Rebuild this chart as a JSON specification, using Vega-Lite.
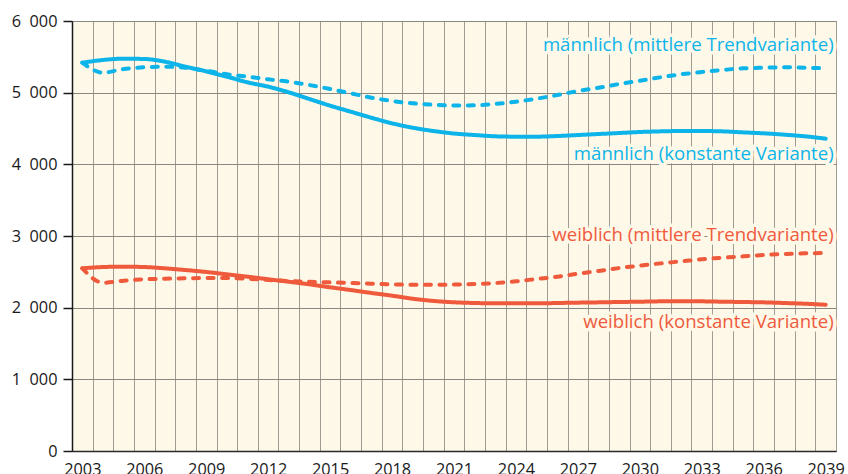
{
  "$schema": "https://vega.github.io/schema/vega-lite/v6.json",
  "width": 764,
  "height": 430,
  "autosize": {"type": "none"},
  "padding": {"left": 72, "top": 21, "right": 12, "bottom": 23},
  "background": "#ffffff",
  "config": {
    "font": "Open Sans",
    "view": {"fill": "#fdf8e7", "stroke": "#8e8a84", "strokeWidth": 1}
  },
  "datasets": {
    "series": [
      {"year":2003,"sex":"m","variant":"konstant","value":5418},{"year":2004,"sex":"m","variant":"konstant","value":5456},{"year":2005,"sex":"m","variant":"konstant","value":5474},{"year":2006,"sex":"m","variant":"konstant","value":5470},{"year":2007,"sex":"m","variant":"konstant","value":5432},{"year":2008,"sex":"m","variant":"konstant","value":5362},{"year":2009,"sex":"m","variant":"konstant","value":5297},{"year":2010,"sex":"m","variant":"konstant","value":5223},{"year":2011,"sex":"m","variant":"konstant","value":5144},{"year":2012,"sex":"m","variant":"konstant","value":5083},{"year":2013,"sex":"m","variant":"konstant","value":5004},{"year":2014,"sex":"m","variant":"konstant","value":4911},{"year":2015,"sex":"m","variant":"konstant","value":4818},{"year":2016,"sex":"m","variant":"konstant","value":4734},{"year":2017,"sex":"m","variant":"konstant","value":4650},{"year":2018,"sex":"m","variant":"konstant","value":4572},{"year":2019,"sex":"m","variant":"konstant","value":4511},{"year":2020,"sex":"m","variant":"konstant","value":4465},{"year":2021,"sex":"m","variant":"konstant","value":4430},{"year":2022,"sex":"m","variant":"konstant","value":4409},{"year":2023,"sex":"m","variant":"konstant","value":4391},{"year":2024,"sex":"m","variant":"konstant","value":4386},{"year":2025,"sex":"m","variant":"konstant","value":4386},{"year":2026,"sex":"m","variant":"konstant","value":4395},{"year":2027,"sex":"m","variant":"konstant","value":4409},{"year":2028,"sex":"m","variant":"konstant","value":4423},{"year":2029,"sex":"m","variant":"konstant","value":4437},{"year":2030,"sex":"m","variant":"konstant","value":4451},{"year":2031,"sex":"m","variant":"konstant","value":4460},{"year":2032,"sex":"m","variant":"konstant","value":4465},{"year":2033,"sex":"m","variant":"konstant","value":4465},{"year":2034,"sex":"m","variant":"konstant","value":4460},{"year":2035,"sex":"m","variant":"konstant","value":4446},{"year":2036,"sex":"m","variant":"konstant","value":4433},{"year":2037,"sex":"m","variant":"konstant","value":4414},{"year":2038,"sex":"m","variant":"konstant","value":4391},{"year":2039,"sex":"m","variant":"konstant","value":4358},
      {"year":2003,"sex":"m","variant":"trend","value":5418},{"year":2004,"sex":"m","variant":"trend","value":5279},{"year":2005,"sex":"m","variant":"trend","value":5330},{"year":2006,"sex":"m","variant":"trend","value":5354},{"year":2007,"sex":"m","variant":"trend","value":5362},{"year":2008,"sex":"m","variant":"trend","value":5348},{"year":2009,"sex":"m","variant":"trend","value":5306},{"year":2010,"sex":"m","variant":"trend","value":5256},{"year":2011,"sex":"m","variant":"trend","value":5223},{"year":2012,"sex":"m","variant":"trend","value":5186},{"year":2013,"sex":"m","variant":"trend","value":5153},{"year":2014,"sex":"m","variant":"trend","value":5107},{"year":2015,"sex":"m","variant":"trend","value":5051},{"year":2016,"sex":"m","variant":"trend","value":4991},{"year":2017,"sex":"m","variant":"trend","value":4930},{"year":2018,"sex":"m","variant":"trend","value":4884},{"year":2019,"sex":"m","variant":"trend","value":4851},{"year":2020,"sex":"m","variant":"trend","value":4832},{"year":2021,"sex":"m","variant":"trend","value":4820},{"year":2022,"sex":"m","variant":"trend","value":4823},{"year":2023,"sex":"m","variant":"trend","value":4842},{"year":2024,"sex":"m","variant":"trend","value":4874},{"year":2025,"sex":"m","variant":"trend","value":4916},{"year":2026,"sex":"m","variant":"trend","value":4967},{"year":2027,"sex":"m","variant":"trend","value":5023},{"year":2028,"sex":"m","variant":"trend","value":5069},{"year":2029,"sex":"m","variant":"trend","value":5121},{"year":2030,"sex":"m","variant":"trend","value":5167},{"year":2031,"sex":"m","variant":"trend","value":5214},{"year":2032,"sex":"m","variant":"trend","value":5256},{"year":2033,"sex":"m","variant":"trend","value":5288},{"year":2034,"sex":"m","variant":"trend","value":5316},{"year":2035,"sex":"m","variant":"trend","value":5340},{"year":2036,"sex":"m","variant":"trend","value":5348},{"year":2037,"sex":"m","variant":"trend","value":5354},{"year":2038,"sex":"m","variant":"trend","value":5348},{"year":2039,"sex":"m","variant":"trend","value":5340},
      {"year":2003,"sex":"w","variant":"konstant","value":2549},{"year":2004,"sex":"w","variant":"konstant","value":2567},{"year":2005,"sex":"w","variant":"konstant","value":2572},{"year":2006,"sex":"w","variant":"konstant","value":2567},{"year":2007,"sex":"w","variant":"konstant","value":2549},{"year":2008,"sex":"w","variant":"konstant","value":2525},{"year":2009,"sex":"w","variant":"konstant","value":2498},{"year":2010,"sex":"w","variant":"konstant","value":2465},{"year":2011,"sex":"w","variant":"konstant","value":2432},{"year":2012,"sex":"w","variant":"konstant","value":2396},{"year":2013,"sex":"w","variant":"konstant","value":2362},{"year":2014,"sex":"w","variant":"konstant","value":2325},{"year":2015,"sex":"w","variant":"konstant","value":2284},{"year":2016,"sex":"w","variant":"konstant","value":2246},{"year":2017,"sex":"w","variant":"konstant","value":2205},{"year":2018,"sex":"w","variant":"konstant","value":2167},{"year":2019,"sex":"w","variant":"konstant","value":2125},{"year":2020,"sex":"w","variant":"konstant","value":2094},{"year":2021,"sex":"w","variant":"konstant","value":2075},{"year":2022,"sex":"w","variant":"konstant","value":2065},{"year":2023,"sex":"w","variant":"konstant","value":2060},{"year":2024,"sex":"w","variant":"konstant","value":2060},{"year":2025,"sex":"w","variant":"konstant","value":2060},{"year":2026,"sex":"w","variant":"konstant","value":2065},{"year":2027,"sex":"w","variant":"konstant","value":2070},{"year":2028,"sex":"w","variant":"konstant","value":2074},{"year":2029,"sex":"w","variant":"konstant","value":2079},{"year":2030,"sex":"w","variant":"konstant","value":2083},{"year":2031,"sex":"w","variant":"konstant","value":2088},{"year":2032,"sex":"w","variant":"konstant","value":2088},{"year":2033,"sex":"w","variant":"konstant","value":2088},{"year":2034,"sex":"w","variant":"konstant","value":2083},{"year":2035,"sex":"w","variant":"konstant","value":2079},{"year":2036,"sex":"w","variant":"konstant","value":2074},{"year":2037,"sex":"w","variant":"konstant","value":2065},{"year":2038,"sex":"w","variant":"konstant","value":2055},{"year":2039,"sex":"w","variant":"konstant","value":2041},
      {"year":2003,"sex":"w","variant":"trend","value":2549},{"year":2004,"sex":"w","variant":"trend","value":2348},{"year":2005,"sex":"w","variant":"trend","value":2376},{"year":2006,"sex":"w","variant":"trend","value":2396},{"year":2007,"sex":"w","variant":"trend","value":2404},{"year":2008,"sex":"w","variant":"trend","value":2410},{"year":2009,"sex":"w","variant":"trend","value":2414},{"year":2010,"sex":"w","variant":"trend","value":2414},{"year":2011,"sex":"w","variant":"trend","value":2404},{"year":2012,"sex":"w","variant":"trend","value":2386},{"year":2013,"sex":"w","variant":"trend","value":2372},{"year":2014,"sex":"w","variant":"trend","value":2362},{"year":2015,"sex":"w","variant":"trend","value":2353},{"year":2016,"sex":"w","variant":"trend","value":2344},{"year":2017,"sex":"w","variant":"trend","value":2335},{"year":2018,"sex":"w","variant":"trend","value":2325},{"year":2019,"sex":"w","variant":"trend","value":2320},{"year":2020,"sex":"w","variant":"trend","value":2320},{"year":2021,"sex":"w","variant":"trend","value":2322},{"year":2022,"sex":"w","variant":"trend","value":2330},{"year":2023,"sex":"w","variant":"trend","value":2344},{"year":2024,"sex":"w","variant":"trend","value":2367},{"year":2025,"sex":"w","variant":"trend","value":2400},{"year":2026,"sex":"w","variant":"trend","value":2432},{"year":2027,"sex":"w","variant":"trend","value":2474},{"year":2028,"sex":"w","variant":"trend","value":2512},{"year":2029,"sex":"w","variant":"trend","value":2553},{"year":2030,"sex":"w","variant":"trend","value":2586},{"year":2031,"sex":"w","variant":"trend","value":2618},{"year":2032,"sex":"w","variant":"trend","value":2646},{"year":2033,"sex":"w","variant":"trend","value":2675},{"year":2034,"sex":"w","variant":"trend","value":2697},{"year":2035,"sex":"w","variant":"trend","value":2716},{"year":2036,"sex":"w","variant":"trend","value":2735},{"year":2037,"sex":"w","variant":"trend","value":2749},{"year":2038,"sex":"w","variant":"trend","value":2758},{"year":2039,"sex":"w","variant":"trend","value":2763}
    ],
    "labels": [
      {"label":"männlich (mittlere Trendvariante)","sex":"m","year":2039,"value":5588},
      {"label":"männlich (konstante Variante)","sex":"m","year":2039,"value":4060},
      {"label":"weiblich (mittlere Trendvariante)","sex":"w","year":2039,"value":2935},
      {"label":"weiblich (konstante Variante)","sex":"w","year":2039,"value":1712}
    ]
  },
  "encoding": {
    "x": {
      "field": "year",
      "type": "ordinal",
      "scale": {"type": "band", "paddingInner": 0, "paddingOuter": 0},
      "axis": {
        "title": null,
        "labelAngle": 0,
        "labelOverlap": false,
        "labelExpr": "(datum.value - 2003) % 3 == 0 ? datum.label : ''",
        "labelFontSize": 16.3,
        "labelColor": "#1a1a1a",
        "labelPadding": 10,
        "ticks": false,
        "tickSize": 0,
        "tickBand": "extent",
        "grid": true,
        "gridColor": "#a19c93",
        "gridWidth": 1,
        "domainColor": "#2a2a2a",
        "domainWidth": 1.5
      }
    },
    "y": {
      "field": "value",
      "type": "quantitative",
      "scale": {"domain": [0, 6000], "nice": false},
      "axis": {
        "title": null,
        "values": [0, 1000, 2000, 3000, 4000, 5000, 6000],
        "labelExpr": "replace(format(datum.value, ','), ',', '\u00a0\u00a0')",
        "labelFontSize": 16.3,
        "labelColor": "#1a1a1a",
        "labelPadding": 6,
        "tickSize": 9,
        "tickColor": "#1a1a1a",
        "tickWidth": 1.5,
        "grid": true,
        "gridColor": "#8a8680",
        "gridWidth": 1,
        "domainColor": "#1a1a1a",
        "domainWidth": 1.5
      }
    }
  },
  "layer": [
    {
      "data": {"name": "labels"},
      "mark": {"type": "text", "align": "right", "baseline": "alphabetic", "dx": 8, "fontSize": 18.6, "fill": "#fdf8e7", "stroke": "#fdf8e7", "strokeWidth": 7, "strokeJoin": "round"},
      "encoding": {"text": {"field": "label"}}
    },
    {
      "data": {"name": "series"},
      "mark": {"type": "line", "strokeWidth": 4, "strokeCap": "round", "interpolate": "monotone"},
      "encoding": {
        "color": {"field": "sex", "type": "nominal", "scale": {"domain": ["m", "w"], "range": ["#0cb4ea", "#ef5a3d"]}, "legend": null},
        "strokeDash": {"field": "variant", "type": "nominal", "scale": {"domain": ["konstant", "trend"], "range": [[1, 0], [6, 8.5]]}, "legend": null}
      }
    },
    {
      "data": {"name": "labels"},
      "mark": {"type": "text", "align": "right", "baseline": "alphabetic", "dx": 8, "fontSize": 18.6},
      "encoding": {
        "text": {"field": "label"},
        "color": {"field": "sex", "type": "nominal", "legend": null}
      }
    }
  ]
}
